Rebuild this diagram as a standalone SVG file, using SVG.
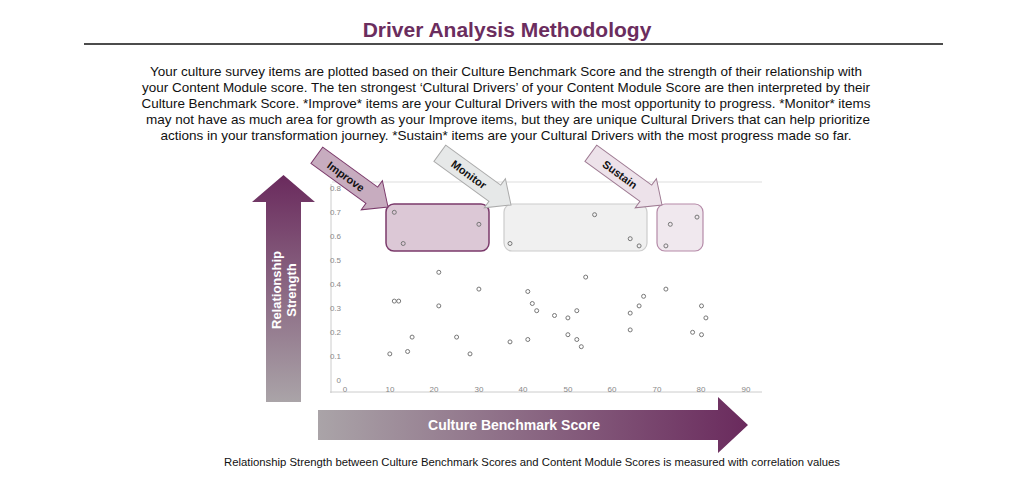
<svg xmlns="http://www.w3.org/2000/svg" width="1024" height="485" viewBox="0 0 1024 485">
<defs>
<linearGradient id="gv" x1="0" y1="1" x2="0" y2="0"><stop offset="0" stop-color="#aaa4a8"/><stop offset="1" stop-color="#6a2a5d"/></linearGradient>
<linearGradient id="gh" x1="0" y1="0" x2="1" y2="0"><stop offset="0" stop-color="#aaa4a8"/><stop offset="1" stop-color="#6a2a5d"/></linearGradient>
<path id="blk" d="M-88,-10 L-20,-10 L-20,-18 L0,0 L-20,18 L-20,10 L-88,10 Z"/>
</defs>
<style>
text{font-family:"Liberation Sans",Arial,sans-serif}
.p{font-size:13px;fill:#111;text-anchor:middle}
.t{font-size:8px;fill:#888}
.pt{fill:none;stroke:#777;stroke-width:1}
.lbl{font-size:11px;font-weight:bold;fill:#111;text-anchor:middle}
</style>
<rect width="1024" height="485" fill="#fff"/>
<text x="507" y="37" text-anchor="middle" font-size="21" font-weight="bold" fill="#6b2d5e">Driver Analysis Methodology</text>
<line x1="84" y1="44" x2="943" y2="44" stroke="#111" stroke-width="1.5"/>
<text class="p" x="506" y="76" textLength="712" lengthAdjust="spacingAndGlyphs">Your culture survey items are plotted based on their Culture Benchmark Score and the strength of their relationship with</text>
<text class="p" x="506" y="92" textLength="728" lengthAdjust="spacingAndGlyphs">your Content Module score. The ten strongest ‘Cultural Drivers’ of your Content Module Score are then interpreted by their</text>
<text class="p" x="506" y="108" textLength="729" lengthAdjust="spacingAndGlyphs">Culture Benchmark Score. *Improve* items are your Cultural Drivers with the most opportunity to progress. *Monitor* items</text>
<text class="p" x="508" y="124" textLength="724" lengthAdjust="spacingAndGlyphs">may not have as much area for growth as your Improve items, but they are unique Cultural Drivers that can help prioritize</text>
<text class="p" x="506" y="140" textLength="691" lengthAdjust="spacingAndGlyphs">actions in your transformation journey. *Sustain* items are your Cultural Drivers with the most progress made so far.</text>

<g id="y-arrow">
<path d="M266,402 L266,202 L252,202 L283.5,175 L315,202 L301,202 L301,402 Z" fill="url(#gv)"/>
<text transform="translate(283.5,290) rotate(-90)" text-anchor="middle" font-size="13" font-weight="bold" fill="#fff"><tspan x="0" dy="-3">Relationship</tspan><tspan x="0" dy="15">Strength</tspan></text>
</g>
<g id="x-arrow">
<path d="M318,410 L718,410 L718,397 L748,425 L718,453 L718,440 L318,440 Z" fill="url(#gh)"/>
<text x="514" y="430" text-anchor="middle" font-size="14" font-weight="bold" fill="#fff">Culture Benchmark Score</text>
</g>

<g id="chart">
<line x1="332" y1="182" x2="762" y2="182" stroke="#ddd"/>
<line x1="331" y1="184" x2="331" y2="393" stroke="#ccc"/>
<line x1="330" y1="392" x2="762" y2="392" stroke="#ccc"/>
<g class="t" text-anchor="end">
<text x="341" y="191">0.8</text><text x="341" y="215">0.7</text><text x="341" y="239">0.6</text><text x="341" y="263">0.5</text><text x="341" y="287">0.4</text><text x="341" y="311">0.3</text><text x="341" y="335">0.2</text><text x="341" y="359">0.1</text><text x="341" y="383">0</text>
</g>
<g class="t" text-anchor="middle">
<text x="345" y="392">0</text><text x="390" y="392">10</text><text x="434" y="392">20</text><text x="479" y="392">30</text><text x="523" y="392">40</text><text x="568" y="392">50</text><text x="612" y="392">60</text><text x="657" y="392">70</text><text x="701" y="392">80</text><text x="746" y="392">90</text>
</g>
</g>

<g id="improve-box"><rect x="386" y="204" width="103" height="47" rx="8" fill="#dcc8d6" stroke="#7b3a6b" stroke-width="1.5"/></g>
<g id="monitor-box"><rect x="504" y="204" width="143" height="47" rx="8" fill="#f0f0f0" stroke="#ccc" stroke-width="1.2"/></g>
<g id="sustain-box"><rect x="657" y="204" width="46" height="47" rx="8" fill="#f0e8ee" stroke="#b58aa8" stroke-width="1.2"/></g>

<g id="points" class="pt">
<circle cx="389.8" cy="353.9" r="2"/><circle cx="394.3" cy="212.3" r="2"/><circle cx="394.3" cy="301.1" r="2"/><circle cx="398.7" cy="301.1" r="2"/><circle cx="403.2" cy="243.5" r="2"/><circle cx="407.6" cy="351.5" r="2"/><circle cx="412.1" cy="337.1" r="2"/><circle cx="438.8" cy="272.3" r="2"/><circle cx="438.8" cy="305.9" r="2"/><circle cx="456.6" cy="337.1" r="2"/><circle cx="470" cy="353.9" r="2"/><circle cx="478.9" cy="224.3" r="2"/><circle cx="478.9" cy="289.1" r="2"/><circle cx="510" cy="243.5" r="2"/><circle cx="510" cy="341.9" r="2"/><circle cx="527.8" cy="291.5" r="2"/><circle cx="527.8" cy="339.5" r="2"/><circle cx="532.3" cy="303.5" r="2"/><circle cx="536.7" cy="310.7" r="2"/><circle cx="554.5" cy="315.5" r="2"/><circle cx="567.9" cy="317.9" r="2"/><circle cx="567.9" cy="334.7" r="2"/><circle cx="576.8" cy="310.7" r="2"/><circle cx="576.8" cy="339.5" r="2"/><circle cx="581.3" cy="346.7" r="2"/><circle cx="585.7" cy="277.1" r="2"/><circle cx="594.6" cy="214.7" r="2"/><circle cx="630.2" cy="238.7" r="2"/><circle cx="630.2" cy="313.1" r="2"/><circle cx="630.2" cy="329.9" r="2"/><circle cx="639.1" cy="245.9" r="2"/><circle cx="639.1" cy="305.9" r="2"/><circle cx="643.6" cy="296.3" r="2"/><circle cx="665.9" cy="245.9" r="2"/><circle cx="665.9" cy="289.1" r="2"/><circle cx="670.3" cy="224.3" r="2"/><circle cx="692.6" cy="332.3" r="2"/><circle cx="697" cy="217.1" r="2"/><circle cx="701.5" cy="305.9" r="2"/><circle cx="701.5" cy="334.7" r="2"/><circle cx="705.9" cy="317.9" r="2"/>
</g>

<g id="improve-arrow" transform="translate(388,207) rotate(36)">
<use href="#blk" fill="#c7acbf" stroke="#7b3a6b" stroke-width="1"/>
<text class="lbl" x="-52" y="4">Improve</text>
</g>
<g id="monitor-arrow" transform="translate(511,205) rotate(36)">
<use href="#blk" fill="#e6e8e8" stroke="#aaa" stroke-width="1"/>
<text class="lbl" x="-52" y="4">Monitor</text>
</g>
<g id="sustain-arrow" transform="translate(662,205) rotate(36)">
<use href="#blk" fill="#ede2ea" stroke="#9e7a92" stroke-width="1"/>
<text class="lbl" x="-52" y="4">Sustain</text>
</g>

<text x="532" y="466" text-anchor="middle" font-size="10.5" fill="#111" textLength="616" lengthAdjust="spacingAndGlyphs">Relationship Strength between Culture Benchmark Scores and Content Module Scores is measured with correlation values</text>
</svg>
